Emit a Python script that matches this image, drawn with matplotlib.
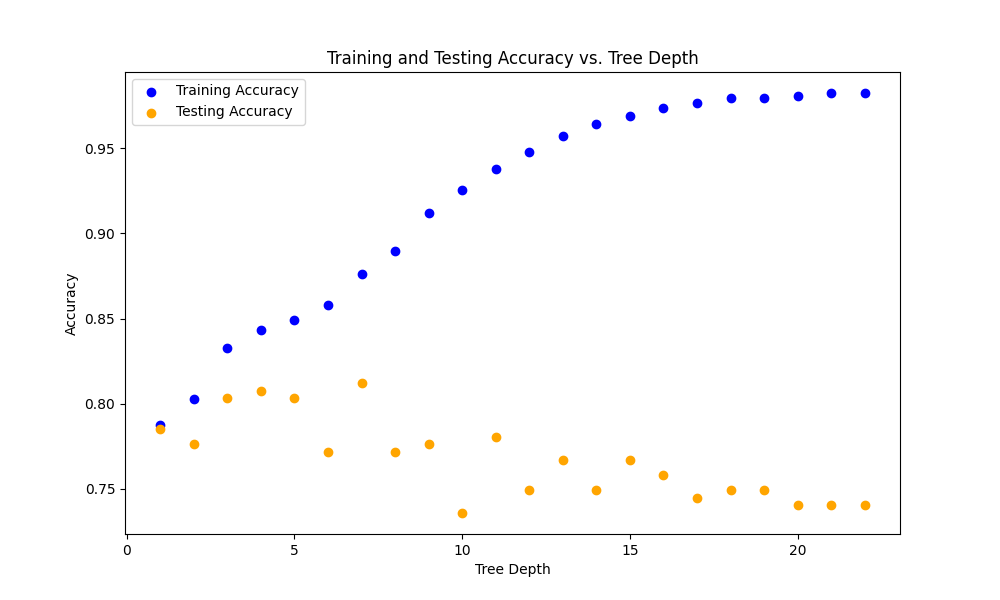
import matplotlib
matplotlib.use("Agg")
import matplotlib.pyplot as plt

depths = list(range(1, 23))
train_acc = [0.7875, 0.8028, 0.8327, 0.8433, 0.8491, 0.8579, 0.8761, 0.8896,
             0.9119, 0.9254, 0.9377, 0.9477, 0.9570, 0.9641, 0.9688, 0.9735,
             0.9764, 0.9793, 0.9793, 0.9805, 0.9823, 0.9823]
test_acc = [0.7852, 0.7764, 0.8034, 0.8075, 0.8034, 0.7717, 0.8122, 0.7717,
            0.7764, 0.7359, 0.7805, 0.7494, 0.7670, 0.7494, 0.7670, 0.7582,
            0.7447, 0.7494, 0.7494, 0.7406, 0.7406, 0.7406]

fig, ax = plt.subplots(figsize=(10, 6), dpi=100)
ax.scatter(depths, train_acc, color='blue', label='Training Accuracy')
ax.scatter(depths, test_acc, color='orange', label='Testing Accuracy')
ax.set_xlabel('Tree Depth')
ax.set_ylabel('Accuracy')
ax.set_title('Training and Testing Accuracy vs. Tree Depth')
ax.legend()
fig.savefig('out.png')
